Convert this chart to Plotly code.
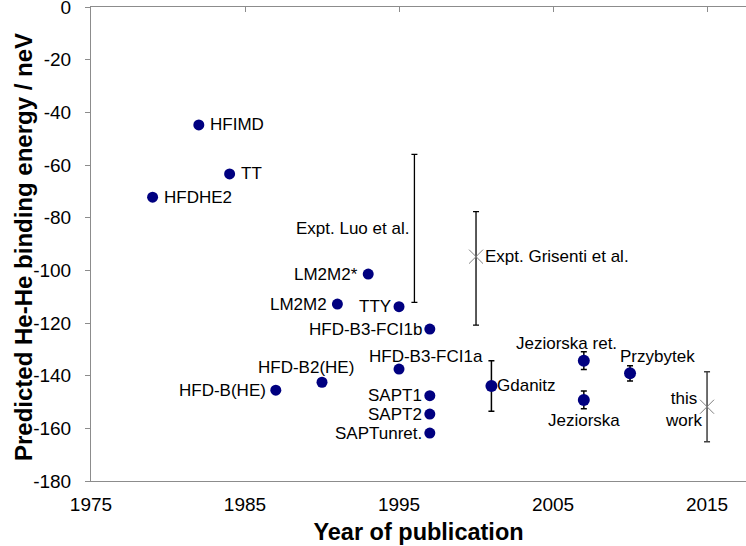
import plotly.graph_objects as go

# ---------------- data ----------------
theory_labels = ["HFDHE2", "HFIMD", "TT", "HFD-B(HE)", "HFD-B2(HE)", "LM2M2", "LM2M2*",
                 "TTY", "HFD-B3-FCI1b", "HFD-B3-FCI1a", "SAPT1", "SAPT2", "SAPTunret."]
theory_years = [1979, 1982, 1984, 1987, 1990, 1991, 1993, 1995, 1997, 1995, 1997, 1997, 1997]
theory_energy = [-72.2, -44.8, -63.4, -145.5, -142.5, -112.8, -101.4, -113.8, -122.3,
                 -137.5, -147.6, -154.6, -161.8]

err_labels = ["Gdanitz", "Jeziorska ret.", "Jeziorska", "Przybytek"]
err_years = [2001, 2007, 2007, 2010]
err_energy = [-143.9, -134.3, -149.2, -139.1]
err_unc = [9.6, 3.4, 3.4, 2.9]

exp_labels = ["Expt. Luo et al.", "Expt. Grisenti et al."]
exp_years = [1996, 2000]
exp_energy = [-84.1, -94.8]
exp_err_up = [28.1, 17.1]
exp_err_down = [28.1, 26.0]
exp_marker_shown = [False, True]

this_label = ["this<br>work"]
this_year = [2015]
this_energy = [-151.8]
this_unc = [13.3]

y_tickvals = [0, -20, -40, -60, -80, -100, -120, -140, -160, -180]
y_ticktext = ["0", "-20", "-40", "-60", "-80", "-100", "-120", "-140", "-160", "-180"]
x_tickvals = [1975, 1985, 1995, 2005, 2015]
x_ticktext = ["1975", "1985", "1995", "2005", "2015"]

x_title = "Year of publication"
y_title = "Predicted He-He binding energy / neV"

# ---------------- styles ----------------
FONT = "Liberation Sans, Arial, sans-serif"
NAVY = "#000080"
AXIS = "#8c8c8c"
LBL = 17

# label placement (pixel offsets: xanchor, xshift, yshift)
theory_lbl_pos = [("left", 9, 0), ("left", 9, 0), ("left", 9, 0), ("right", -8, 0),
                  ("center", -16, 15), ("right", -8, 0), ("right", -8, 0), ("right", -6, 0),
                  ("right", -6, 0), ("center", 27, 13), ("right", -6, 0), ("right", -6, 0),
                  ("right", -6, 0)]
err_lbl_pos = [("left", 4, 0), ("center", -17, 17), ("center", 0, -21), ("center", 27, 17)]
exp_lbl_pos = [("right", -3, 0), ("left", 7, 0)]
this_lbl_pos = [("center", -24, -3)]

fig = go.Figure()

fig.add_trace(go.Scatter(
    x=theory_years, y=theory_energy, mode="markers",
    marker=dict(size=11, color=NAVY), showlegend=False))

fig.add_trace(go.Scatter(
    x=err_years, y=err_energy, mode="markers",
    marker=dict(size=12, color=NAVY),
    error_y=dict(type="data", array=err_unc, color="#000000", thickness=1.5, width=3),
    showlegend=False))

fig.add_trace(go.Scatter(
    x=exp_years, y=exp_energy, mode="markers",
    marker=dict(size=14, symbol="x-thin",
                color=["rgba(0,0,0,0)" if not s else "#808080" for s in exp_marker_shown],
                line=dict(width=1, color=["rgba(0,0,0,0)" if not s else "#808080"
                                          for s in exp_marker_shown])),
    error_y=dict(type="data", symmetric=False, array=exp_err_up, arrayminus=exp_err_down,
                 color="#000000", thickness=1.3, width=3),
    showlegend=False))

fig.add_trace(go.Scatter(
    x=this_year, y=this_energy, mode="markers",
    marker=dict(size=14, symbol="x-thin", color="#808080", line=dict(width=1, color="#808080")),
    error_y=dict(type="data", array=this_unc, color="#404040", thickness=1.5, width=3),
    showlegend=False))

# invisible trace for top axis
fig.add_trace(go.Scatter(x=[x_tickvals[0]], y=[y_tickvals[0]], xaxis="x2", mode="markers",
                         marker=dict(size=1, color="rgba(0,0,0,0)"), showlegend=False,
                         hoverinfo="skip"))

annotations = []
def add_labels(xs, ys, labels, pos):
    for x, y, t, (anc, dx, dy) in zip(xs, ys, labels, pos):
        annotations.append(dict(x=x, y=y, xref="x", yref="y", text=t, showarrow=False,
                                xanchor=anc, yanchor="middle", xshift=dx, yshift=dy,
                                align="center",
                                font=dict(family=FONT, size=LBL, color="#000000")))

add_labels(theory_years, theory_energy, theory_labels, theory_lbl_pos)
add_labels(err_years, err_energy, err_labels, err_lbl_pos)
add_labels(exp_years, exp_energy, exp_labels, exp_lbl_pos)
add_labels(this_year, this_energy, this_label, this_lbl_pos)

# y-axis title as rotated annotation
annotations.append(dict(x=0, y=0.5, xref="paper", yref="paper", text="<b>" + y_title + "</b>",
                        showarrow=False, textangle=-90, xanchor="center", yanchor="middle",
                        xshift=-68, yshift=-3,
                        font=dict(family=FONT, size=24, color="#000000")))

xrange = [1975, 2017.53]

fig.update_layout(
    width=746, height=546,
    margin=dict(l=91, r=0, t=7, b=65),
    paper_bgcolor="white", plot_bgcolor="white",
    font=dict(family=FONT, color="#000000"),
    annotations=annotations,
    xaxis=dict(range=xrange, tickvals=x_tickvals, ticktext=x_ticktext, automargin=False,
               showgrid=False, zeroline=False, showline=True, linecolor=AXIS, linewidth=1,
               ticks="", tickfont=dict(size=19, family=FONT, color="#000000"),
               ticklabelstandoff=6,
               title=dict(text="<b>" + x_title + "</b>", standoff=9,
                          font=dict(size=23.5, family=FONT, color="#000000"))),
    xaxis2=dict(range=xrange, overlaying="x", side="top", tickvals=x_tickvals,
                showticklabels=False, showgrid=False, zeroline=False, showline=True,
                automargin=False,
                linecolor=AXIS, linewidth=1, ticks="inside", ticklen=5, tickcolor=AXIS,
                tickwidth=1),
    yaxis=dict(range=[-180, 0], tickvals=y_tickvals, ticktext=y_ticktext, automargin=False,
               showgrid=False, zeroline=False, showline=True, linecolor=AXIS, linewidth=1,
               ticks="outside", ticklen=5, tickcolor=AXIS, ticklabeloverflow="allow",
               tickfont=dict(size=19, family=FONT, color="#000000"),
               ticklabelstandoff=10),
)

fig.write_html("out.html", config={"displayModeBar": False},
               post_script="document.body.style.margin='0';")
